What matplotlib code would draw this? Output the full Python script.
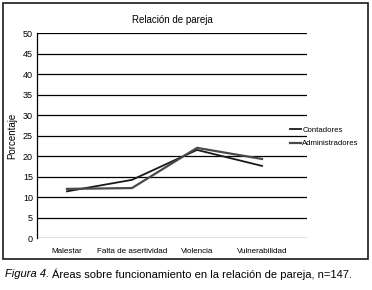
import matplotlib.pyplot as plt
from matplotlib.patches import Rectangle

categories = ['Malestar', 'Falta de asertividad', 'Violencia', 'Vulnerabilidad']
contadores = [11.4, 14.2, 21.5, 17.6]
administradores = [12.0, 12.2, 22.0, 19.3]
y_ticks = list(range(0, 55, 5))

plt.rcParams['font.family'] = ['Liberation Sans', 'DejaVu Sans']

fig = plt.figure(figsize=(3.72, 2.90), dpi=100)
ax = fig.add_axes([0.0995, 0.179, 0.7255, 0.707])

x = list(range(len(categories)))
ax.plot(x, contadores, color='#1a1a1a', lw=1.3, label='Contadores', zorder=3)
ax.plot(x, administradores, color='#4a4a4a', lw=1.6, label='Administradores', zorder=3)

ax.set_xlim(-0.46, 3.69)
ax.set_ylim(0, 50)
ax.set_yticks(y_ticks)
ax.set_xticks(x)
ax.set_xticklabels(categories)
ax.tick_params(axis='both', length=0, labelsize=6.5, pad=3)
ax.tick_params(axis='x', labelsize=5.8, pad=7)
ax.yaxis.grid(True, color='black', lw=0.9)
ax.set_axisbelow(True)
for s in ['top', 'right', 'bottom']:
    ax.spines[s].set_visible(False)
ax.spines['left'].set_linewidth(0.9)

ax.set_title('Relación de pareja', fontsize=7, pad=7)
ax.set_ylabel('Porcentaje', fontsize=7, labelpad=4)

ax.legend(loc='upper left', bbox_to_anchor=(0.925, 0.56), frameon=False,
          fontsize=5.6, handlelength=1.4, handletextpad=0.2, labelspacing=0.8,
          borderaxespad=0)

# outer frame
fig.patches.append(Rectangle((3 / 372, 1 - 259 / 290), 365 / 372, 256 / 290,
                             transform=fig.transFigure, fill=False,
                             edgecolor='#1a1a1a', lw=1.2))

t1 = fig.text(5 / 372, 1 - 274 / 290, 'Figura 4.', fontsize=8, style='italic',
              va='center')
fig.canvas.draw()
bb = t1.get_window_extent()
fig.text(bb.x1 / fig.bbox.width + 0.008, 1 - 274 / 290,
         'Áreas sobre funcionamiento en la relación de pareja, n=147.',
         fontsize=8, va='center')

fig.savefig('out.png', dpi=100)
